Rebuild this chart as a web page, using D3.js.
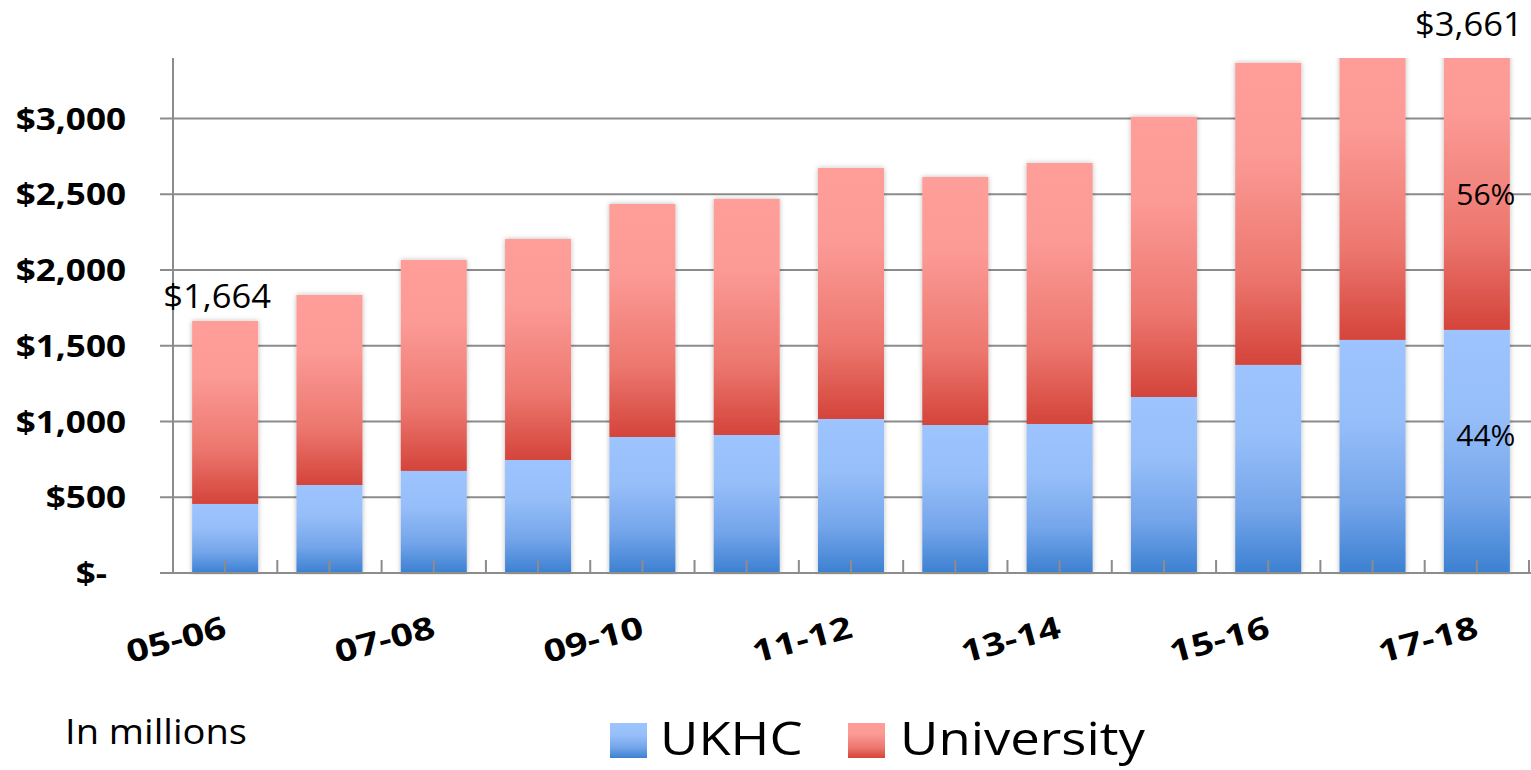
<!DOCTYPE html>
<html>
<head>
<meta charset="utf-8">
<script src="https://cdn.jsdelivr.net/npm/d3@7"></script>
<style>
  html, body { margin: 0; padding: 0; background: #fff; }
  svg { display: block; font-family: "Open Sans", "Liberation Sans", sans-serif; }
</style>
</head>
<body>
<svg id="chart" width="1531" height="770"></svg>
<script>
// Fiscal years
const years = ["05-06","06-07","07-08","08-09","09-10","10-11","11-12","12-13","13-14","14-15","15-16","16-17","17-18"];
// Expenditures in millions of dollars
const ukhc       = [456, 581, 674, 746, 898, 911, 1017, 977, 984, 1162, 1374, 1539, 1605];
const university = [1208, 1255, 1393, 1459, 1538, 1558, 1657, 1637, 1723, 1850, 1994, 1991, 2056];
const yTicks = [0, 500, 1000, 1500, 2000, 2500, 3000];
const seriesNames = ["UKHC", "University"];

const W = 1531, H = 770;
const plotLeft = 173, plotRight = 1529, plotTop = 58, plotBottom = 573;

const svg = d3.select("#chart");
const defs = svg.append("defs");

function grad(id, stops) {
  const g = defs.append("linearGradient").attr("id", id)
    .attr("x1", 0).attr("y1", 0).attr("x2", 0).attr("y2", 1);
  stops.forEach(([o, c]) => g.append("stop").attr("offset", o).attr("stop-color", c));
}
grad("gBlue", [[0, "#9dc4fe"], [0.35, "#96bef9"], [0.7, "#74a5ea"], [1, "#3c80d1"]]);
grad("gRed",  [[0, "#ff9d99"], [0.3, "#fc9a95"], [0.7, "#ec776f"], [1, "#d4443a"]]);

const shadow = defs.append("filter").attr("id", "shadow")
  .attr("x", "-20%").attr("y", "-5%").attr("width", "140%").attr("height", "110%");
shadow.append("feDropShadow").attr("dx", 0).attr("dy", 0)
  .attr("stdDeviation", 2.5).attr("flood-color", "#000").attr("flood-opacity", 0.28);

defs.append("clipPath").attr("id", "plotClip")
  .append("rect").attr("x", plotLeft - 20).attr("y", plotTop)
  .attr("width", W - plotLeft + 20).attr("height", plotBottom - plotTop + 2);

const x = d3.scaleBand().domain(years).range([plotLeft, plotRight])
  .paddingInner(0.367).paddingOuter(0.1835);
const y = d3.scaleLinear().domain([0, 3400]).range([plotBottom, plotTop]);

const rows = years.map((yr, i) => ({ yr, ukhc: ukhc[i], university: university[i] }));
const stacked = d3.stack().keys(["ukhc", "university"])(rows);
const fills = { ukhc: "url(#gBlue)", university: "url(#gRed)" };

// gridlines
const gridColor = "#8c8c8c";
svg.append("g").selectAll("line").data(yTicks).join("line")
  .attr("x1", plotLeft - 13).attr("x2", W)
  .attr("y1", d => y(d)).attr("y2", d => y(d))
  .attr("stroke", gridColor).attr("stroke-width", 2);

// bars
const barsG = svg.append("g").attr("clip-path", "url(#plotClip)");
const barGroups = barsG.selectAll("g.bar").data(years).join("g")
  .attr("class", "bar").attr("filter", "url(#shadow)");
barGroups.each(function(yr, i) {
  const g = d3.select(this);
  stacked.forEach(layer => {
    const d = layer[i];
    g.append("rect")
      .attr("x", x(yr)).attr("width", x.bandwidth())
      .attr("y", y(d[1])).attr("height", y(d[0]) - y(d[1]))
      .attr("fill", fills[layer.key]);
  });
});

// axes
svg.append("line").attr("x1", plotLeft).attr("x2", plotLeft).attr("y1", plotTop).attr("y2", plotBottom)
  .attr("stroke", gridColor).attr("stroke-width", 2);
svg.append("line").attr("x1", plotLeft - 13).attr("x2", W).attr("y1", plotBottom).attr("y2", plotBottom)
  .attr("stroke", gridColor).attr("stroke-width", 2);
const halfTicks = d3.range(0, years.length * 2 + 1).map(k => plotLeft + k * x.step() / 2);
svg.append("g").selectAll("line").data(halfTicks).join("line")
  .attr("x1", d => d).attr("x2", d => d).attr("y1", plotBottom - 13).attr("y2", plotBottom)
  .attr("stroke", gridColor).attr("stroke-width", 2);

// y tick labels
const fmt = d3.format(",");
svg.append("g").selectAll("text").data(yTicks).join("text")
  .attr("transform", d => `translate(${d === 0 ? 107 : 126},${y(d) + 11}) scale(1.17,1)`)
  .attr("text-anchor", "end")
  .attr("font-weight", 700).attr("font-size", 30).attr("fill", "#000")
  .text(d => d === 0 ? "$-" : "$" + fmt(d));

// x tick labels (every other year)
svg.append("g").selectAll("text").data(years.filter((d, i) => i % 2 === 0)).join("text")
  .attr("transform", d => `translate(${x(d) + x.bandwidth() / 2 + 3},${plotBottom + 64}) rotate(-15) scale(1.26,1)`)
  .attr("text-anchor", "end")
  .attr("font-weight", 700).attr("font-size", 31).attr("fill", "#000")
  .text(d => d);

// totals on first and last bar
const totals = rows.map(r => r.ukhc + r.university);
[0, years.length - 1].forEach(i => {
  const cx = x(years[i]) + x.bandwidth() / 2 - 8;
  const by = Math.max(y(totals[i]) - 13, 36);
  svg.append("text")
    .attr("transform", `translate(${cx},${by}) scale(1.08,1)`)
    .attr("text-anchor", "middle").attr("font-size", 32).attr("fill", "#000")
    .text("$" + fmt(totals[i]));
});

// share labels on the last bar
const li = years.length - 1;
const lcx = x(years[li]) + x.bandwidth() / 2 + 9;
const uTop = y(ukhc[li]);
const visTop = Math.max(y(totals[li]), plotTop);
svg.append("text")
  .attr("transform", `translate(${lcx},${(uTop + visTop) / 2 + 11})`)
  .attr("text-anchor", "middle").attr("font-size", 30).attr("fill", "#000")
  .text(Math.round(university[li] / totals[li] * 100) + "%");
svg.append("text")
  .attr("transform", `translate(${lcx},${(uTop + plotBottom) / 2 - 5})`)
  .attr("text-anchor", "middle").attr("font-size", 30).attr("fill", "#000")
  .text(Math.round(ukhc[li] / totals[li] * 100) + "%");

// note
svg.append("text")
  .attr("transform", "translate(65,744) scale(1.12,1)")
  .attr("font-size", 34).attr("fill", "#000")
  .text("In millions");

// legend
const legendItems = [
  { name: seriesNames[0], fill: "url(#gBlue)", sx: 610, tx: 660 },
  { name: seriesNames[1], fill: "url(#gRed)", sx: 848, tx: 900 }
];
const lg = svg.append("g");
legendItems.forEach(l => {
  lg.append("rect").attr("x", l.sx).attr("y", 723).attr("width", 37).attr("height", 35).attr("fill", l.fill);
  lg.append("text")
    .attr("transform", `translate(${l.tx},755) scale(1.17,1)`)
    .attr("font-size", 45).attr("fill", "#000")
    .text(l.name);
});
</script>
</body>
</html>
